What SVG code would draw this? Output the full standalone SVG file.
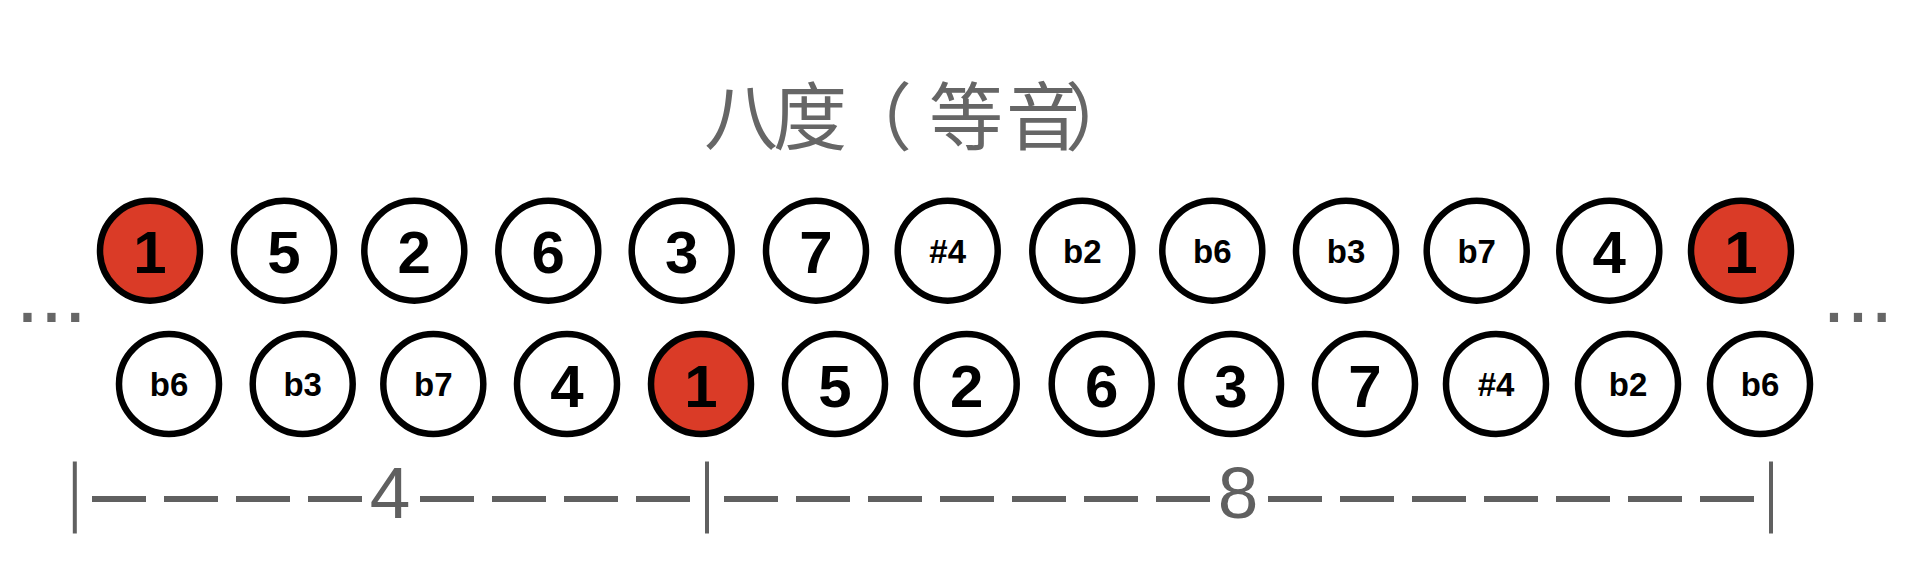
<svg xmlns="http://www.w3.org/2000/svg" width="1915" height="586" viewBox="0 0 1915 586">
<style>
.n{fill:#fff;stroke:#000;stroke-width:6.5}
.r{fill:#DA3B27;stroke:#000;stroke-width:6.5}
.big{font-family:"Liberation Sans",Arial,sans-serif;font-weight:bold;font-size:60px;fill:#000;text-anchor:middle}
.sm{font-family:"Liberation Sans",Arial,sans-serif;font-weight:bold;font-size:33px;fill:#000;text-anchor:middle}
.title{font-family:"Noto Sans CJK SC","Noto Sans CJK JP",sans-serif;font-size:74px;fill:#666;text-anchor:middle}
.ps{text-anchor:start}
.dots{font-family:"Liberation Sans",Arial,sans-serif;font-size:86px;fill:#666}
.num{font-family:"Liberation Sans",Arial,sans-serif;font-size:73px;fill:#606060;text-anchor:middle}
.dash{stroke:#606060;stroke-width:6;stroke-dasharray:54 18;fill:none}
.bar{stroke:#606060;stroke-width:4;fill:none}
</style>
<rect width="1915" height="586" fill="#fff"/>
<g id="title"><text class="title" y="144"><tspan x="741">八</tspan><tspan x="810">度</tspan><tspan class="ps" x="838">（</tspan><tspan x="966">等</tspan><tspan x="1043">音</tspan><tspan class="ps" x="1065">）</tspan></text></g>
<g id="dots-left"><text class="dots" x="15.5" y="321.5">...</text></g>
<g id="dots-right"><text class="dots" x="1822" y="321.5">...</text></g>
<g id="top-row">
<g id="t1"><circle class="r" cx="150" cy="250.7" r="50"/><text class="big" x="150" y="273.3">1</text></g>
<g id="t2"><circle class="n" cx="284" cy="250.7" r="50"/><text class="big" x="284" y="273.3">5</text></g>
<g id="t3"><circle class="n" cx="414.3" cy="250.7" r="50"/><text class="big" x="414.3" y="273.3">2</text></g>
<g id="t4"><circle class="n" cx="548.3" cy="250.7" r="50"/><text class="big" x="548.3" y="273.3">6</text></g>
<g id="t5"><circle class="n" cx="681.7" cy="250.7" r="50"/><text class="big" x="681.7" y="273.3">3</text></g>
<g id="t6"><circle class="n" cx="816" cy="250.7" r="50"/><text class="big" x="816" y="273.3">7</text></g>
<g id="t7"><circle class="n" cx="947.7" cy="250.7" r="50"/><text class="sm" x="947.7" y="262.7">#4</text></g>
<g id="t8"><circle class="n" cx="1082.3" cy="250.7" r="50"/><text class="sm" x="1082.3" y="262.7">b2</text></g>
<g id="t9"><circle class="n" cx="1212.3" cy="250.7" r="50"/><text class="sm" x="1212.3" y="262.7">b6</text></g>
<g id="t10"><circle class="n" cx="1346" cy="250.7" r="50"/><text class="sm" x="1346" y="262.7">b3</text></g>
<g id="t11"><circle class="n" cx="1476.7" cy="250.7" r="50"/><text class="sm" x="1476.7" y="262.7">b7</text></g>
<g id="t12"><circle class="n" cx="1609.3" cy="250.7" r="50"/><text class="big" x="1609.3" y="273.3">4</text></g>
<g id="t13"><circle class="r" cx="1741" cy="250.7" r="50"/><text class="big" x="1741" y="273.3">1</text></g>
</g>
<g id="bottom-row">
<g id="b1"><circle class="n" cx="169" cy="384" r="50"/><text class="sm" x="169" y="396">b6</text></g>
<g id="b2"><circle class="n" cx="302.7" cy="384" r="50"/><text class="sm" x="302.7" y="396">b3</text></g>
<g id="b3"><circle class="n" cx="433.3" cy="384" r="50"/><text class="sm" x="433.3" y="396">b7</text></g>
<g id="b4"><circle class="n" cx="567" cy="384" r="50"/><text class="big" x="567" y="406.7">4</text></g>
<g id="b5"><circle class="r" cx="701" cy="384" r="50"/><text class="big" x="701" y="406.7">1</text></g>
<g id="b6"><circle class="n" cx="835" cy="384" r="50"/><text class="big" x="835" y="406.7">5</text></g>
<g id="b7"><circle class="n" cx="966.7" cy="384" r="50"/><text class="big" x="966.7" y="406.7">2</text></g>
<g id="b8"><circle class="n" cx="1101.7" cy="384" r="50"/><text class="big" x="1101.7" y="406.7">6</text></g>
<g id="b9"><circle class="n" cx="1231" cy="384" r="50"/><text class="big" x="1231" y="406.7">3</text></g>
<g id="b10"><circle class="n" cx="1365" cy="384" r="50"/><text class="big" x="1365" y="406.7">7</text></g>
<g id="b11"><circle class="n" cx="1496" cy="384" r="50"/><text class="sm" x="1496" y="396">#4</text></g>
<g id="b12"><circle class="n" cx="1628" cy="384" r="50"/><text class="sm" x="1628" y="396">b2</text></g>
<g id="b13"><circle class="n" cx="1760" cy="384" r="50"/><text class="sm" x="1760" y="396">b6</text></g>
</g>
<g id="connectors">
<line class="bar" x1="74.8" y1="461.5" x2="74.8" y2="533.5"/>
<line class="bar" x1="707" y1="461.5" x2="707" y2="533.5"/>
<line class="bar" x1="1771" y1="461.5" x2="1771" y2="533.5"/>
<line class="dash" x1="92" y1="499" x2="362" y2="499"/>
<line class="dash" x1="420" y1="499" x2="690" y2="499"/>
<line class="dash" x1="724" y1="499" x2="1210" y2="499"/>
<line class="dash" x1="1268" y1="499" x2="1754" y2="499"/>
</g>
<g id="scale-labels">
<text class="num" x="390" y="518.3">4</text>
<text class="num" x="1238" y="518.3">8</text>
</g>
</svg>
